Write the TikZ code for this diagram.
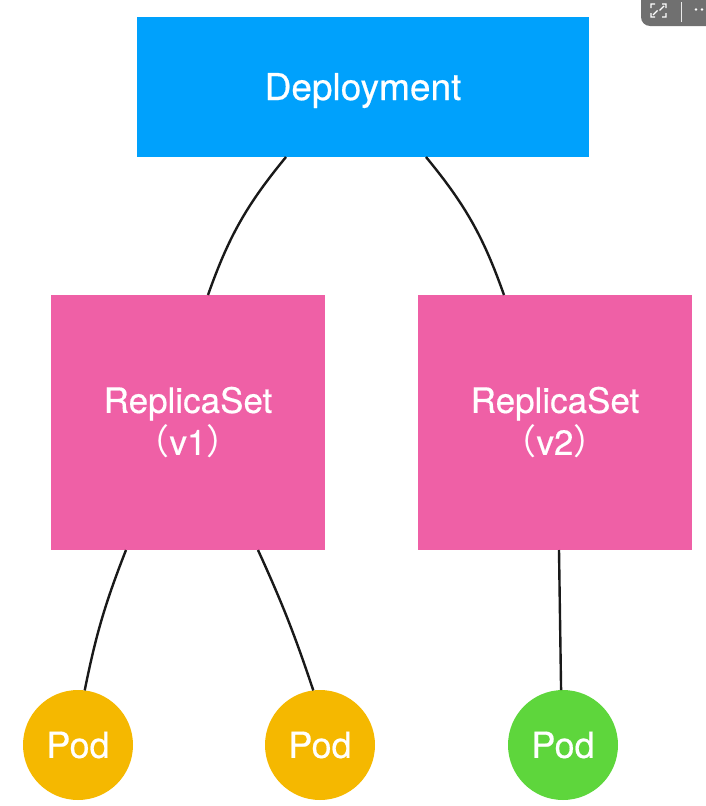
\documentclass[tikz,border=0pt]{standalone}
\usepackage{fontspec}
\setmainfont{TeX Gyre Heros}[FakeBold=0.5]
\newfontfamily\cjk{Noto Sans CJK SC}
\usepackage{tikz}
\usetikzlibrary{positioning}
\definecolor{deployBlue}{RGB}{0, 161, 252}
\definecolor{rsPink}{RGB}{239, 96, 166}
\definecolor{podYellow}{RGB}{245, 184, 0}
\definecolor{podGreen}{RGB}{94, 214, 60}
\definecolor{barGray}{RGB}{112, 112, 112}

\begin{document}
\begin{tikzpicture}[
      x=1pt, y=1pt,
      box/.style={rectangle, inner sep=0pt, outer sep=0pt, text=white, align=center},
      deploy/.style={box, fill=deployBlue, minimum width=452pt, minimum height=140pt, text height=26pt, text depth=0pt, font=\fontsize{37}{40}\selectfont},
      rset/.style={box, fill=rsPink, minimum width=274pt, minimum height=255pt, font=\fontsize{35}{42}\selectfont},
      pod/.style={circle, inner sep=0pt, outer sep=0pt, minimum size=110pt, text=white, font=\fontsize{36}{38}\selectfont},
      link/.style={line width=2.4pt, black!90}
    ]
      \useasboundingbox (0,0) rectangle (706,-806);

      % 上层 Deployment，其余按相对位置排布
      \node[deploy] (dep) at (363,-87) {Deployment};
      \node[rset, below=138pt of dep, xshift=-175pt] (rs1) {ReplicaSet\\{\cjk （}v1{\cjk ）}};
      \node[rset, right=93pt of rs1] (rs2) {ReplicaSet\\{\cjk （}v2{\cjk ）}};
      \node[pod, fill=podYellow, below=140pt of rs1, xshift=-110pt] (pod1) {Pod};
      \node[pod, fill=podYellow, right=132pt of pod1] (pod2) {Pod};
      \node[pod, fill=podGreen, below=140pt of rs2, xshift=8pt] (pod3) {Pod};

      \draw[link] ([xshift=-77pt]dep.south) to[bend right=10] ([xshift=20pt]rs1.north);
      \draw[link] ([xshift=63pt]dep.south) to[bend left=10] ([xshift=-51pt]rs2.north);
      \draw[link] ([xshift=-62pt]rs1.south) to[bend right=5] (pod1.83);
      \draw[link] ([xshift=70pt]rs1.south) to[bend left=3] (pod2.97);
      \draw[link] ([xshift=4pt]rs2.south) -- (pod3.92);

      % 右上角的浏览器按钮条
      \node[fill=barGray, rounded corners=9pt, inner sep=0pt, minimum width=90pt, minimum height=40pt] (bar) at (686,-6) {};
      \fill[white] (706,-40) rectangle (640,-26.5);
      \fill[white] (640,20) rectangle (706,0);
      \draw[white!85!barGray, line width=0.8pt] (681,-2) -- (681,-22);
      \draw[white, line width=1.4pt] (651,-8) -- (651,-4) -- (655,-4) (662,-4) -- (666,-4) -- (666,-8)
        (651,-13) -- (651,-17) -- (655,-17) (662,-17) -- (666,-17) -- (666,-13)
        (653,-15) -- (657.5,-10.5) (664,-6) -- (659.5,-10.5);
      \fill[white] (696,-9.5) circle (1.3) (702,-9.5) circle (1.3);
\end{tikzpicture}
\end{document}
